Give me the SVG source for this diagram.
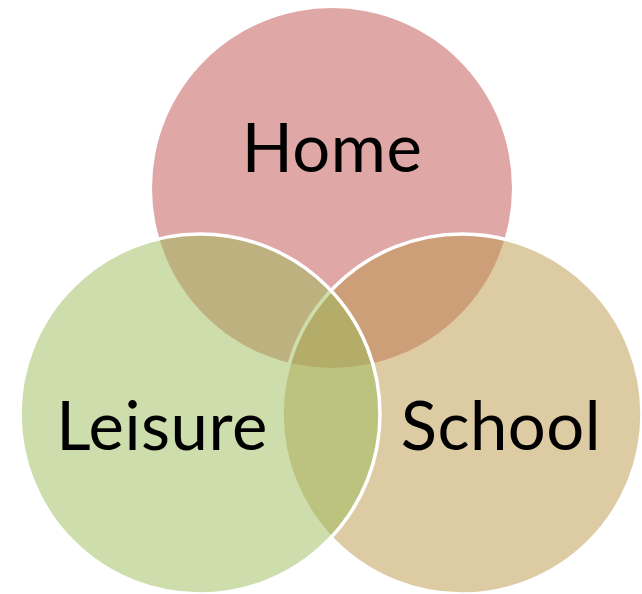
<svg xmlns="http://www.w3.org/2000/svg" width="642" height="594" viewBox="0 0 642 594">
<style>
.c{fill-opacity:0.5}
.s{stroke:#FFFFFF;stroke-width:3.5}
.t{font-family:Lato,"Open Sans","Liberation Sans",sans-serif;font-size:67px;fill:#000000;text-anchor:middle;letter-spacing:0.5px}
</style>
<rect width="642" height="594" fill="#FFFFFF"/>
<g id="home">
<circle class="c" cx="332" cy="188" r="180" fill="#C0504D"/>
</g>
<g id="school">
<circle class="c s" cx="462" cy="414" r="180" fill="#BB9749"/>
</g>
<g id="leisure">
<circle class="c s" cx="200" cy="414" r="180" fill="#9BBB59"/>
</g>
<g id="labels">
<text class="t" x="332" y="172">Home</text>
<text class="t" x="162" y="450">Leisure</text>
<text class="t" x="501" y="450">School</text>
</g>
<g id="connectors"></g>
</svg>
